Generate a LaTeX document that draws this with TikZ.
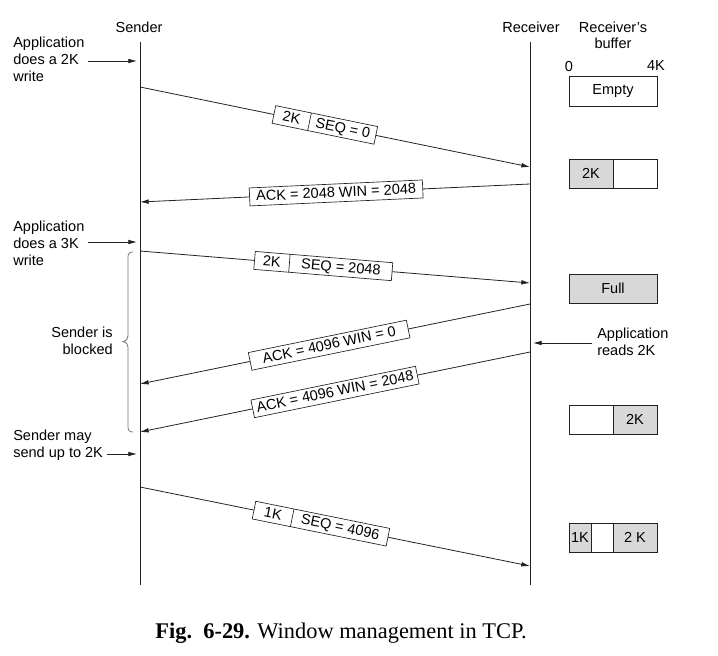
\documentclass[tikz,border=0pt]{standalone}
\usepackage{fontspec}
\setmainfont{Liberation Sans}
\newfontfamily\capfont{Liberation Serif}
\usetikzlibrary{arrows.meta,shapes.multipart}
\definecolor{bufgray}{HTML}{D8D8D8}
\definecolor{ink}{HTML}{222222}
\newcommand\bx[2]{\makebox[#1]{\rule[-3.5pt]{0pt}{13.5pt}#2}}
\begin{document}
\begin{tikzpicture}[x=0.75pt,y=-0.75pt,
  font=\fontsize{10.9}{12.75}\selectfont,
  life/.style={line width=0.75pt, draw=ink},
  msg/.style={line width=0.6pt, draw=ink, -{Latex[length=6.5pt,width=3.5pt]}},
  ann/.style={line width=0.6pt, draw=ink, -{Latex[length=6.5pt,width=3.5pt]}},
  lbl/.style={draw=ink, fill=white, line width=0.5pt, inner sep=0pt, sloped},
  seg/.style={draw=ink, fill=white, line width=0.5pt, inner sep=0pt, sloped,
    rectangle split, rectangle split horizontal, rectangle split parts=2},
  txt/.style={align=left, anchor=west, inner sep=0pt},
  cell/.style={draw=ink, line width=0.6pt, inner sep=0pt, outer sep=0pt,
    minimum height=21.75pt},
  fullc/.style={cell, fill=bufgray},
]
\useasboundingbox (0,0) rectangle (718,656);

% headers
\node (sh) at (139,27) {Sender};
\node (rh) at (531,27) {Receiver};
\node[align=center, font=\fontsize{10.9}{12}\selectfont] (bh) at (613,35) {Receiver's\\buffer};
\node (b0) at (569,66) {0};
\node (b4) at (656,66) {4K};

% lifelines
\coordinate (sTop) at (140,42);
\coordinate (sBot) at (140,585);
\coordinate (rTop) at (530,42);
\coordinate (rBot) at (530,585);
\draw[life] (sTop) -- (sBot);
\draw[life] (rTop) -- (rBot);

% message endpoints
\coordinate (s1) at (140,87);  \coordinate (r1) at (530,167);
\coordinate (r2) at (530,184); \coordinate (s2) at (140,202);
\coordinate (s3) at (140,251); \coordinate (r3) at (530,283);
\coordinate (r4) at (530,304); \coordinate (s4) at (140,384);
\coordinate (r5) at (530,352); \coordinate (s5) at (140,432);
\coordinate (s6) at (140,487); \coordinate (r6) at (530,566);

\draw[msg] (s1) -- node[seg,pos=0.474] (m1) {\bx{27pt}{2K}\nodepart{two}\bx{50.5pt}{SEQ = 0}} (r1);
\draw[msg] (r2) -- node[lbl,pos=0.497] (m2) {\bx{130pt}{ACK = 2048 WIN = 2048}} (s2);
\draw[msg] (s3) -- node[seg,pos=0.47] (m3) {\bx{26pt}{2K}\nodepart{two}\bx{77pt}{SEQ = 2048}} (r3);
\draw[msg] (r4) -- node[lbl,pos=0.515] (m4) {\bx{121pt}{ACK = 4096 WIN = 0}} (s4);
\draw[msg] (r5) -- node[lbl,pos=0.50] (m5) {\bx{126pt}{ACK = 4096 WIN = 2048}} (s5);
\draw[msg] (s6) -- node[seg,pos=0.464] (m6) {\bx{29pt}{1K}\nodepart{two}\bx{73pt}{SEQ = 4096}} (r6);

% left annotations
\node[txt] (app1) at (13,59) {Application\\does a 2K\\write};
\coordinate (a1s) at (88,61);  \coordinate (a1e) at (137,61);
\draw[ann] (a1s) -- (a1e);
\node[txt] (app2) at (13,243) {Application\\does a 3K\\write};
\coordinate (a2s) at (88,242); \coordinate (a2e) at (137,242);
\draw[ann] (a2s) -- (a2e);
\node[align=right, anchor=east, inner sep=0pt] (blk) at (113,341) {Sender is\\blocked};
\node[txt] (may) at (13,445.5) {Sender may\\send up to 2K};
\coordinate (a3s) at (107,454); \coordinate (a3e) at (137,454);
\draw[ann] (a3s) -- (a3e);

% brace
\draw[line width=0.6pt, draw=black!55]
  (133,252) .. controls (129.5,252) and (128,253.5) .. (128,257)
  -- (128,336) .. controls (128,339) and (126.5,340.5) .. (123,341.5)
  .. controls (126.5,342.5) and (128,344) .. (128,347)
  -- (128,427) .. controls (128,430.5) and (129.5,432) .. (133,432);

% right annotation
\node[txt] (rd) at (597,342) {Application\\reads 2K};
\coordinate (a4s) at (592,343); \coordinate (a4e) at (533,343);
\draw[ann] (a4s) -- (a4e);

% buffers
\node[cell, minimum width=66pt, minimum height=22.5pt] (bx1) at (613,91) {Empty};
\node[fullc, minimum width=33pt] (bx2a) at (591,173.5) {2K};
\node[cell, minimum width=33pt] (bx2b) at (635,173.5) {};
\node[fullc, minimum width=66pt] (bx3) at (613,288.5) {Full};
\node[cell, minimum width=33pt] (bx4a) at (591,419.5) {};
\node[fullc, minimum width=33pt] (bx4b) at (635,419.5) {2K};
\node[fullc, minimum width=16.5pt] (bx5a) at (580,537.5) {1K};
\node[cell, minimum width=16.5pt] (bx5b) at (602,537.5) {};
\node[fullc, minimum width=33pt] (bx5c) at (635,537.5) {2 K};

% caption
\node (cap) at (341,633) {\capfont\fontsize{16.8}{20}\selectfont\textbf{Fig.\ \ 6-29.} Window management in TCP.};
\end{tikzpicture}
\end{document}
